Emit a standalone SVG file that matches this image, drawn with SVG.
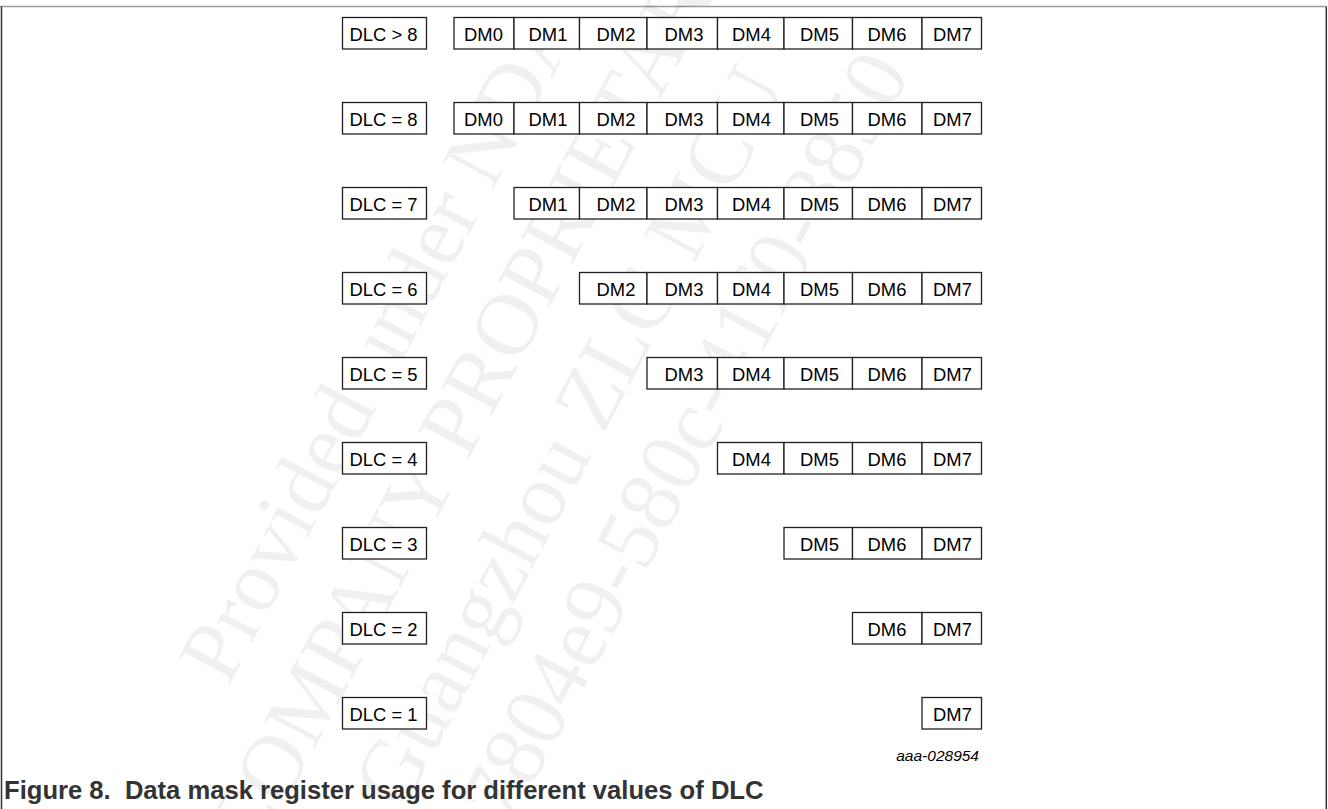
<svg xmlns="http://www.w3.org/2000/svg" width="1328" height="809" viewBox="0 0 1328 809">
<style>
.box{fill:#fff;stroke:#231f20;stroke-width:1.3}
.t{font-family:"Liberation Sans",Arial,sans-serif;font-size:18.4px;fill:#000;text-anchor:middle}
.wm{font-family:"Liberation Serif","Times New Roman",serif;font-size:88px;fill:#000;fill-opacity:0.06;text-anchor:middle}
.cap{font-family:"Liberation Sans",Arial,sans-serif;font-size:25.6px;font-weight:bold;fill:#333}
.id{font-family:"Liberation Sans",Arial,sans-serif;font-size:15.5px;font-style:italic;fill:#000;text-anchor:end}
</style>
<rect width="1328" height="809" fill="#fff"/>
<g id="frame">
<line x1="0" y1="6.5" x2="1326.5" y2="6.5" stroke="#9a9a9a" stroke-width="1.5"/>
<line x1="1.5" y1="6.5" x2="1.5" y2="809" stroke="#333" stroke-width="1.5"/>
<line x1="1326.3" y1="6.5" x2="1326.3" y2="809" stroke="#333" stroke-width="1.5"/>
</g>
<g id="watermark">
<text class="wm" transform="translate(405,355) rotate(-62)">Provided under NDA</text>
<text class="wm" transform="translate(500,400) rotate(-62)">COMPANY PROPRIETARY</text>
<text class="wm" transform="translate(595,450) rotate(-62)">Guangzhou ZLG MCU</text>
<text class="wm" transform="translate(700,470) rotate(-62)">47804e9-580c-41f0-8850</text>
</g>
<g id="connectors"/>
<g id="row-dlc-gt8">
<g id="dlc-gt8"><rect class="box" x="342.5" y="17.5" width="84" height="31.5"/><text class="t" x="383.5" y="41.3">DLC &gt; 8</text></g>
<g id="gt8-dm0"><rect class="box" x="454" y="17.5" width="60" height="31.5"/><text class="t" x="483.5" y="41.3">DM0</text></g>
<g id="gt8-dm1"><rect class="box" x="514" y="17.5" width="65.5" height="31.5"/><text class="t" x="548" y="41.3">DM1</text></g>
<g id="gt8-dm2"><rect class="box" x="579.5" y="17.5" width="67.5" height="31.5"/><text class="t" x="616" y="41.3">DM2</text></g>
<g id="gt8-dm3"><rect class="box" x="647" y="17.5" width="70.5" height="31.5"/><text class="t" x="684" y="41.3">DM3</text></g>
<g id="gt8-dm4"><rect class="box" x="717.5" y="17.5" width="66.5" height="31.5"/><text class="t" x="751.5" y="41.3">DM4</text></g>
<g id="gt8-dm5"><rect class="box" x="784" y="17.5" width="68.5" height="31.5"/><text class="t" x="819.5" y="41.3">DM5</text></g>
<g id="gt8-dm6"><rect class="box" x="852.5" y="17.5" width="69.5" height="31.5"/><text class="t" x="887" y="41.3">DM6</text></g>
<g id="gt8-dm7"><rect class="box" x="922" y="17.5" width="59.5" height="31.5"/><text class="t" x="952.5" y="41.3">DM7</text></g>
</g>
<g id="row-dlc-8" transform="translate(0,85)">
<g id="dlc-8"><rect class="box" x="342.5" y="17.5" width="84" height="31.5"/><text class="t" x="383.5" y="41.3">DLC = 8</text></g>
<g id="d8-dm0"><rect class="box" x="454" y="17.5" width="60" height="31.5"/><text class="t" x="483.5" y="41.3">DM0</text></g>
<g id="d8-dm1"><rect class="box" x="514" y="17.5" width="65.5" height="31.5"/><text class="t" x="548" y="41.3">DM1</text></g>
<g id="d8-dm2"><rect class="box" x="579.5" y="17.5" width="67.5" height="31.5"/><text class="t" x="616" y="41.3">DM2</text></g>
<g id="d8-dm3"><rect class="box" x="647" y="17.5" width="70.5" height="31.5"/><text class="t" x="684" y="41.3">DM3</text></g>
<g id="d8-dm4"><rect class="box" x="717.5" y="17.5" width="66.5" height="31.5"/><text class="t" x="751.5" y="41.3">DM4</text></g>
<g id="d8-dm5"><rect class="box" x="784" y="17.5" width="68.5" height="31.5"/><text class="t" x="819.5" y="41.3">DM5</text></g>
<g id="d8-dm6"><rect class="box" x="852.5" y="17.5" width="69.5" height="31.5"/><text class="t" x="887" y="41.3">DM6</text></g>
<g id="d8-dm7"><rect class="box" x="922" y="17.5" width="59.5" height="31.5"/><text class="t" x="952.5" y="41.3">DM7</text></g>
</g>
<g id="row-dlc-7" transform="translate(0,170)">
<g id="dlc-7"><rect class="box" x="342.5" y="17.5" width="84" height="31.5"/><text class="t" x="383.5" y="41.3">DLC = 7</text></g>
<g id="d7-dm1"><rect class="box" x="514" y="17.5" width="65.5" height="31.5"/><text class="t" x="548" y="41.3">DM1</text></g>
<g id="d7-dm2"><rect class="box" x="579.5" y="17.5" width="67.5" height="31.5"/><text class="t" x="616" y="41.3">DM2</text></g>
<g id="d7-dm3"><rect class="box" x="647" y="17.5" width="70.5" height="31.5"/><text class="t" x="684" y="41.3">DM3</text></g>
<g id="d7-dm4"><rect class="box" x="717.5" y="17.5" width="66.5" height="31.5"/><text class="t" x="751.5" y="41.3">DM4</text></g>
<g id="d7-dm5"><rect class="box" x="784" y="17.5" width="68.5" height="31.5"/><text class="t" x="819.5" y="41.3">DM5</text></g>
<g id="d7-dm6"><rect class="box" x="852.5" y="17.5" width="69.5" height="31.5"/><text class="t" x="887" y="41.3">DM6</text></g>
<g id="d7-dm7"><rect class="box" x="922" y="17.5" width="59.5" height="31.5"/><text class="t" x="952.5" y="41.3">DM7</text></g>
</g>
<g id="row-dlc-6" transform="translate(0,255)">
<g id="dlc-6"><rect class="box" x="342.5" y="17.5" width="84" height="31.5"/><text class="t" x="383.5" y="41.3">DLC = 6</text></g>
<g id="d6-dm2"><rect class="box" x="579.5" y="17.5" width="67.5" height="31.5"/><text class="t" x="616" y="41.3">DM2</text></g>
<g id="d6-dm3"><rect class="box" x="647" y="17.5" width="70.5" height="31.5"/><text class="t" x="684" y="41.3">DM3</text></g>
<g id="d6-dm4"><rect class="box" x="717.5" y="17.5" width="66.5" height="31.5"/><text class="t" x="751.5" y="41.3">DM4</text></g>
<g id="d6-dm5"><rect class="box" x="784" y="17.5" width="68.5" height="31.5"/><text class="t" x="819.5" y="41.3">DM5</text></g>
<g id="d6-dm6"><rect class="box" x="852.5" y="17.5" width="69.5" height="31.5"/><text class="t" x="887" y="41.3">DM6</text></g>
<g id="d6-dm7"><rect class="box" x="922" y="17.5" width="59.5" height="31.5"/><text class="t" x="952.5" y="41.3">DM7</text></g>
</g>
<g id="row-dlc-5" transform="translate(0,340)">
<g id="dlc-5"><rect class="box" x="342.5" y="17.5" width="84" height="31.5"/><text class="t" x="383.5" y="41.3">DLC = 5</text></g>
<g id="d5-dm3"><rect class="box" x="647" y="17.5" width="70.5" height="31.5"/><text class="t" x="684" y="41.3">DM3</text></g>
<g id="d5-dm4"><rect class="box" x="717.5" y="17.5" width="66.5" height="31.5"/><text class="t" x="751.5" y="41.3">DM4</text></g>
<g id="d5-dm5"><rect class="box" x="784" y="17.5" width="68.5" height="31.5"/><text class="t" x="819.5" y="41.3">DM5</text></g>
<g id="d5-dm6"><rect class="box" x="852.5" y="17.5" width="69.5" height="31.5"/><text class="t" x="887" y="41.3">DM6</text></g>
<g id="d5-dm7"><rect class="box" x="922" y="17.5" width="59.5" height="31.5"/><text class="t" x="952.5" y="41.3">DM7</text></g>
</g>
<g id="row-dlc-4" transform="translate(0,425)">
<g id="dlc-4"><rect class="box" x="342.5" y="17.5" width="84" height="31.5"/><text class="t" x="383.5" y="41.3">DLC = 4</text></g>
<g id="d4-dm4"><rect class="box" x="717.5" y="17.5" width="66.5" height="31.5"/><text class="t" x="751.5" y="41.3">DM4</text></g>
<g id="d4-dm5"><rect class="box" x="784" y="17.5" width="68.5" height="31.5"/><text class="t" x="819.5" y="41.3">DM5</text></g>
<g id="d4-dm6"><rect class="box" x="852.5" y="17.5" width="69.5" height="31.5"/><text class="t" x="887" y="41.3">DM6</text></g>
<g id="d4-dm7"><rect class="box" x="922" y="17.5" width="59.5" height="31.5"/><text class="t" x="952.5" y="41.3">DM7</text></g>
</g>
<g id="row-dlc-3" transform="translate(0,510)">
<g id="dlc-3"><rect class="box" x="342.5" y="17.5" width="84" height="31.5"/><text class="t" x="383.5" y="41.3">DLC = 3</text></g>
<g id="d3-dm5"><rect class="box" x="784" y="17.5" width="68.5" height="31.5"/><text class="t" x="819.5" y="41.3">DM5</text></g>
<g id="d3-dm6"><rect class="box" x="852.5" y="17.5" width="69.5" height="31.5"/><text class="t" x="887" y="41.3">DM6</text></g>
<g id="d3-dm7"><rect class="box" x="922" y="17.5" width="59.5" height="31.5"/><text class="t" x="952.5" y="41.3">DM7</text></g>
</g>
<g id="row-dlc-2" transform="translate(0,595)">
<g id="dlc-2"><rect class="box" x="342.5" y="17.5" width="84" height="31.5"/><text class="t" x="383.5" y="41.3">DLC = 2</text></g>
<g id="d2-dm6"><rect class="box" x="852.5" y="17.5" width="69.5" height="31.5"/><text class="t" x="887" y="41.3">DM6</text></g>
<g id="d2-dm7"><rect class="box" x="922" y="17.5" width="59.5" height="31.5"/><text class="t" x="952.5" y="41.3">DM7</text></g>
</g>
<g id="row-dlc-1" transform="translate(0,680)">
<g id="dlc-1"><rect class="box" x="342.5" y="17.5" width="84" height="31.5"/><text class="t" x="383.5" y="41.3">DLC = 1</text></g>
<g id="d1-dm7"><rect class="box" x="922" y="17.5" width="59.5" height="31.5"/><text class="t" x="952.5" y="41.3">DM7</text></g>
</g>
<text class="id" x="979" y="760.5">aaa-028954</text>
<text class="cap" x="4" y="799" xml:space="preserve">Figure 8.  Data mask register usage for different values of DLC</text>
</svg>
